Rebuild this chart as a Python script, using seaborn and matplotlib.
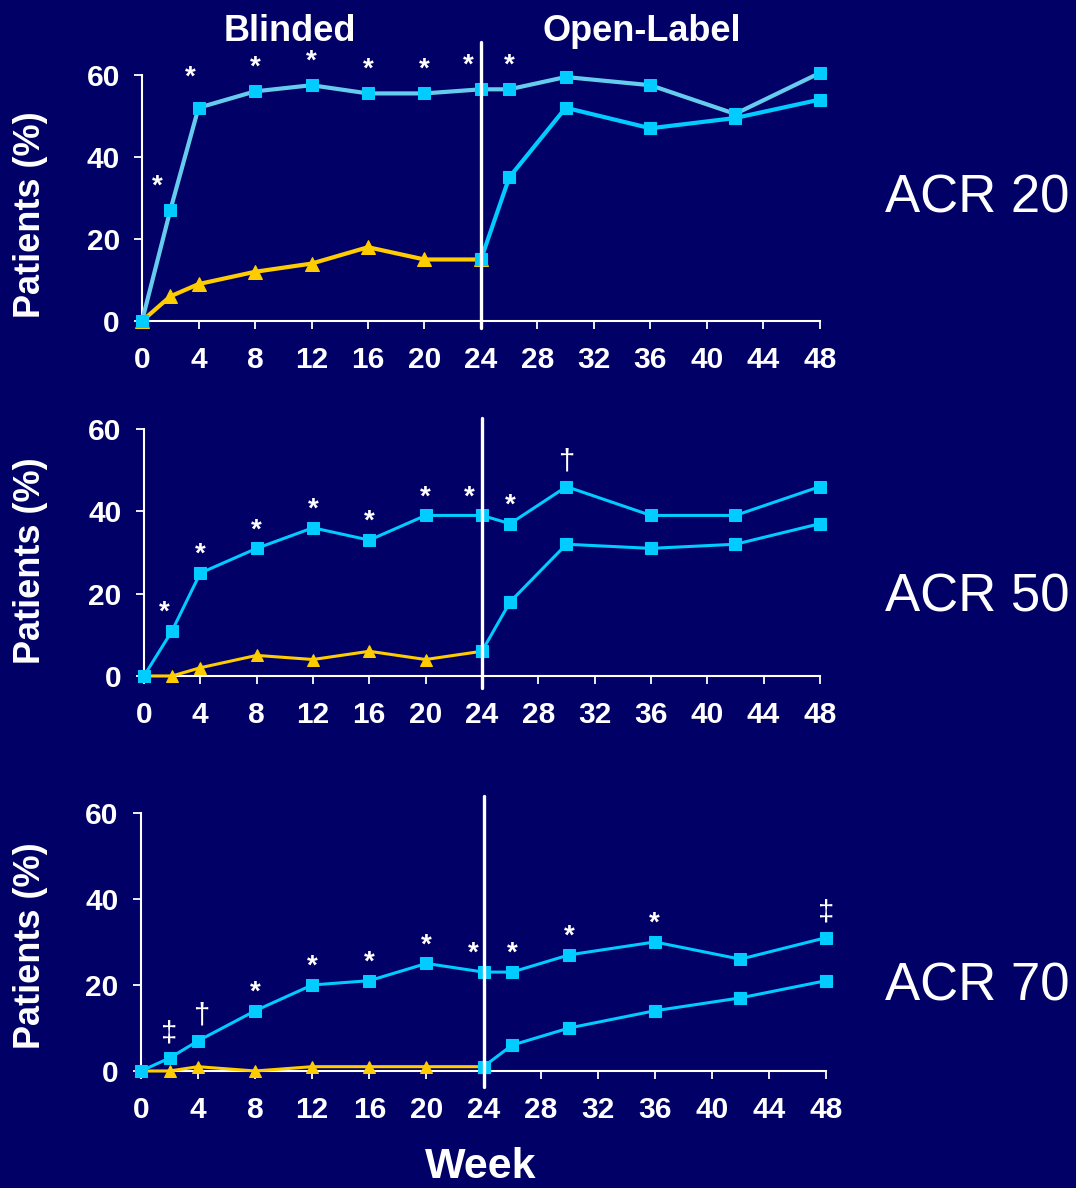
import matplotlib
matplotlib.use("Agg")
import matplotlib.pyplot as plt
import seaborn as sns
import pandas as pd

# ------------------ DATA ------------------
WEEKS_ALL = [0, 2, 4, 8, 12, 16, 20, 24, 26, 30, 36, 42, 48]
WEEKS_BLIND = [0, 2, 4, 8, 12, 16, 20, 24]
WEEKS_OPEN = [24, 26, 30, 36, 42, 48]

ACR20_ACTIVE = [0, 27, 52, 56, 57.5, 55.5, 55.5, 56.5, 56.5, 59.5, 57.5, 50.5, 60.5]
ACR20_PLACEBO = [0, 6, 9, 12, 14, 18, 15, 15]
ACR20_SWITCH = [15, 35, 52, 47, 49.5, 54]

ACR50_ACTIVE = [0, 11, 25, 31, 36, 33, 39, 39, 37, 46, 39, 39, 46]
ACR50_PLACEBO = [0, 0, 2, 5, 4, 6, 4, 6]
ACR50_SWITCH = [6, 18, 32, 31, 32, 37]

ACR70_ACTIVE = [0, 3, 7, 14, 20, 21, 25, 23, 23, 27, 30, 26, 31]
ACR70_PLACEBO = [0, 0, 1, 0, 1, 1, 1, 1]
ACR70_SWITCH = [1, 6, 10, 14, 17, 21]

# significance marks on the active series: (week, symbol)
ACR20_MARKS = [(2, "*"), (4, "*"), (8, "*"), (12, "*"), (16, "*"), (20, "*"), (24, "*"), (26, "*")]
ACR50_MARKS = [(2, "*"), (4, "*"), (8, "*"), (12, "*"), (16, "*"), (20, "*"), (24, "*"), (26, "*"), (30, "\u2020")]
ACR70_MARKS = [(2, "\u2021"), (4, "\u2020"), (8, "*"), (12, "*"), (16, "*"), (20, "*"), (24, "*"), (26, "*"),
               (30, "*"), (36, "*"), (48, "\u2021")]

PANEL_NAMES = ["ACR 20", "ACR 50", "ACR 70"]
X_TICKS = list(range(0, 49, 4))
Y_TICKS = [0, 20, 40, 60]

# ------------------ STYLE ------------------
BG = "#000066"
CYAN = "#00CCFF"
LIGHT = "#66CCEE"
YELLOW = "#FFCC00"
WHITE = "white"

sns.set_theme(style="dark")
plt.rcParams["font.family"] = ["Liberation Sans", "DejaVu Sans"]

# axes rectangles in figure fraction
AX_RECTS = [
    [0.132, 0.7298, 0.630, 0.2071],
    [0.1338, 0.4310, 0.6282, 0.2079],
    [0.131, 0.0985, 0.6367, 0.2172],
]
# divider extent in axes fraction (bottom, top)
DIVIDER = [(-0.028, 1.134), (-0.049, 1.045), (-0.062, 1.066)]
LABEL_Y = [0.833, 0.497, 0.170]
YLABEL_Y = [0.819, 0.528, 0.204]
LINE_W = [3.0, 2.2, 2.2]
MSIZE = [9, 8, 8]
STAR_UP = [17, 13, 13]
# horizontal nudges (points) for marks crowded by the line or the divider
NUDGE_X = [{2: -9, 4: -6, 24: -9}, {2: -6, 24: -9}, {4: 2, 24: -7}]


def draw_panel(ax, active, placebo, switch, marks, idx, active_line):
    lw = LINE_W[idx]
    ms = MSIZE[idx]
    ax.set_facecolor(BG)

    df_p = pd.DataFrame({"week": WEEKS_BLIND, "pct": placebo})
    df_s = pd.DataFrame({"week": WEEKS_OPEN, "pct": switch})
    df_a = pd.DataFrame({"week": WEEKS_ALL, "pct": active})

    sns.lineplot(data=df_p, x="week", y="pct", ax=ax, color=YELLOW, linewidth=lw,
                 marker="^", markersize=ms + 1, markeredgecolor=YELLOW, clip_on=False, zorder=3)
    sns.lineplot(data=df_s, x="week", y="pct", ax=ax, color=CYAN, linewidth=lw,
                 marker="s", markersize=ms, markeredgecolor=CYAN, markeredgewidth=0.8,
                 clip_on=False, zorder=4)
    sns.lineplot(data=df_a, x="week", y="pct", ax=ax, color=active_line, linewidth=lw,
                 marker="s", markersize=ms, markerfacecolor=CYAN, markeredgecolor=CYAN,
                 clip_on=False, zorder=5)

    lookup = dict(zip(WEEKS_ALL, active))
    for wk, sym in marks:
        up = STAR_UP[idx] if sym == "*" else STAR_UP[idx] + 5
        if idx == 0 and wk == 4:
            up += 5
        weight = "bold" if sym == "*" else "normal"
        size = 20 if sym == "*" else 21
        ax.annotate(sym, (wk, lookup[wk]), xytext=(NUDGE_X[idx].get(wk, 0), up),
                    textcoords="offset points", ha="center", va="center",
                    color=WHITE, fontsize=size, fontweight=weight, annotation_clip=False)

    lo, hi = DIVIDER[idx]
    ax.axvline(24, ymin=lo, ymax=hi, color=WHITE, linewidth=2.4, clip_on=False, zorder=6)

    ax.set_xlim(0, 48)
    ax.set_ylim(0, 60)
    ax.set_xticks(X_TICKS)
    ax.set_yticks(Y_TICKS)
    ax.set_xlabel("")
    ax.set_ylabel("")
    ax.grid(False)
    for side in ["top", "right"]:
        ax.spines[side].set_visible(False)
    for side in ["left", "bottom"]:
        ax.spines[side].set_visible(True)
        ax.spines[side].set_color(WHITE)
        ax.spines[side].set_linewidth(1.5)
    ax.tick_params(axis="both", direction="out", length=6, width=1.3, colors=WHITE,
                   labelsize=21.5, bottom=True, left=True)
    ax.tick_params(axis="x", pad=12)
    ax.tick_params(axis="y", pad=10)
    for lab in ax.get_xticklabels() + ax.get_yticklabels():
        lab.set_fontweight("bold")


# ------------------ FIGURE ------------------
fig = plt.figure(figsize=(10.76, 11.88), dpi=100)
fig.patch.set_facecolor(BG)

panels = [
    (ACR20_ACTIVE, ACR20_PLACEBO, ACR20_SWITCH, ACR20_MARKS, LIGHT),
    (ACR50_ACTIVE, ACR50_PLACEBO, ACR50_SWITCH, ACR50_MARKS, CYAN),
    (ACR70_ACTIVE, ACR70_PLACEBO, ACR70_SWITCH, ACR70_MARKS, CYAN),
]

axes = []
for i, (act, plc, sw, mk, line_col) in enumerate(panels):
    ax = fig.add_axes(AX_RECTS[i])
    draw_panel(ax, act, plc, sw, mk, i, line_col)
    axes.append(ax)
    fig.text(0.8225, LABEL_Y[i], PANEL_NAMES[i], color=WHITE, fontsize=38,
             ha="left", va="center")
    fig.text(0.028, YLABEL_Y[i], "Patients (%)", color=WHITE, fontsize=26,
             fontweight="bold", rotation=90, ha="center", va="center")

# phase headers above the first panel
axes[0].text(10.5, 70.5, "Blinded", color=WHITE, fontsize=26, fontweight="bold",
             ha="center", va="center", clip_on=False)
axes[0].text(35.4, 70.5, "Open-Label", color=WHITE, fontsize=26, fontweight="bold",
             ha="center", va="center", clip_on=False)

fig.text(0.447, 0.001, "Week", color=WHITE, fontsize=31, fontweight="bold",
         ha="center", va="bottom")

fig.savefig("out.png", dpi=100, facecolor=BG)
